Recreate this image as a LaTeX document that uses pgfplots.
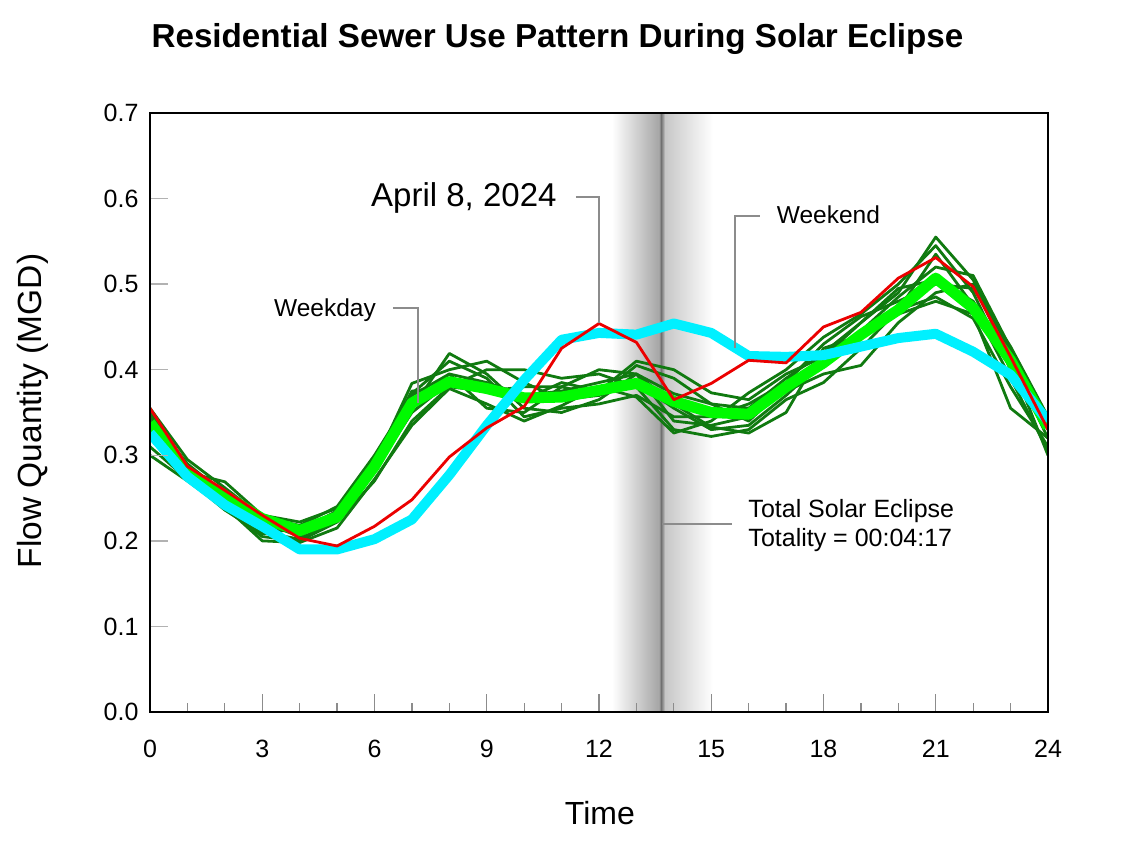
\documentclass[border=0pt]{standalone}
\usepackage{fontspec}
\setmainfont{Liberation Sans}
\usepackage{pgfplots}
\usepackage{pgfplotstable}
\pgfplotsset{compat=1.18}
\definecolor{dgreen}{RGB}{16,122,16}
\definecolor{limec}{RGB}{0,250,0}
\definecolor{cyanc}{RGB}{0,240,255}
\definecolor{redc}{RGB}{235,0,0}
\definecolor{annot}{RGB}{140,140,140}

% weekday / weekend daily profiles (dark green)
\pgfplotstableread{
h  d1    d2    d3    d4    d5    d6    d7    d8    d9
0  0.355 0.300 0.340 0.330 0.345 0.320 0.350 0.335 0.310
1  0.295 0.270 0.280 0.278 0.290 0.275 0.285 0.282 0.272
2  0.262 0.238 0.269 0.245 0.255 0.240 0.250 0.248 0.236
3  0.228 0.205 0.230 0.215 0.222 0.200 0.218 0.210 0.208
4  0.218 0.200 0.222 0.210 0.205 0.198 0.212 0.202 0.215
5  0.240 0.222 0.238 0.228 0.232 0.215 0.235 0.225 0.230
6  0.300 0.270 0.290 0.280 0.295 0.272 0.285 0.282 0.290
7  0.370 0.340 0.384 0.355 0.375 0.335 0.360 0.350 0.372
8  0.395 0.380 0.400 0.419 0.380 0.378 0.395 0.385 0.410
9  0.385 0.375 0.410 0.395 0.400 0.360 0.355 0.380 0.390
10 0.370 0.380 0.385 0.355 0.400 0.340 0.350 0.365 0.345
11 0.375 0.380 0.365 0.350 0.390 0.358 0.380 0.385 0.355
12 0.385 0.370 0.370 0.365 0.395 0.380 0.400 0.375 0.360
13 0.395 0.405 0.385 0.395 0.380 0.368 0.395 0.410 0.370
14 0.372 0.390 0.355 0.340 0.330 0.326 0.360 0.400 0.345
15 0.360 0.360 0.330 0.335 0.322 0.340 0.333 0.373 0.345
16 0.355 0.340 0.335 0.345 0.330 0.373 0.326 0.365 0.360
17 0.390 0.380 0.370 0.375 0.365 0.400 0.350 0.395 0.385
18 0.420 0.405 0.410 0.395 0.385 0.438 0.425 0.415 0.430
19 0.455 0.440 0.445 0.405 0.425 0.465 0.440 0.455 0.462
20 0.490 0.470 0.485 0.455 0.470 0.500 0.465 0.495 0.480
21 0.555 0.535 0.520 0.490 0.485 0.545 0.480 0.505 0.500
22 0.505 0.475 0.510 0.500 0.460 0.490 0.465 0.480 0.495
23 0.420 0.390 0.425 0.410 0.380 0.400 0.355 0.410 0.427
24 0.335 0.305 0.340 0.320 0.310 0.330 0.320 0.300 0.345
}\daysdata

% average (lime), April 8 2024 (red), other profile (cyan)
\pgfplotstableread{
h  avg   apr   cy
0  0.338 0.355 0.326
1  0.279 0.287 0.275
2  0.253 0.259 0.242
3  0.226 0.230 0.217
4  0.212 0.203 0.190
5  0.228 0.194 0.190
6  0.287 0.217 0.202
7  0.361 0.248 0.225
8  0.386 0.298 0.277
9  0.378 0.332 0.335
10 0.367 0.357 0.388
11 0.368 0.425 0.435
12 0.376 0.454 0.443
13 0.384 0.432 0.441
14 0.363 0.365 0.454
15 0.350 0.384 0.443
16 0.348 0.411 0.416
17 0.380 0.408 0.415
18 0.408 0.450 0.417
19 0.441 0.467 0.427
20 0.470 0.507 0.437
21 0.507 0.531 0.442
22 0.472 0.497 0.421
23 0.411 0.415 0.394
24 0.333 0.330 0.340
}\keydata

\begin{document}
\begin{tikzpicture}[x=1pt,y=1pt]
\path[use as bounding box] (0,0) rectangle (1144,863);
\begin{axis}[
  at={(150pt,151pt)}, anchor=south west,
  scale only axis, width=898pt, height=599pt,
  axis on top,
  xmin=0, xmax=24, ymin=0, ymax=0.7,
  xtick={0,3,...,24}, minor x tick num=2,
  ytick={0,0.1,0.2,0.3,0.4,0.5,0.6,0.7},
  tick align=inside,
  xtick pos=left, ytick pos=left,
  major tick length=18pt, minor tick length=9pt,
  x tick style={annot, line width=1.3pt},
  y tick style={black!30, line width=1.5pt},
  axis line style={line width=2.6pt},
  tick label style={font=\fontsize{25}{29}\selectfont},
  /pgf/number format/assume math mode=true,
  yticklabel style={/pgf/number format/fixed, /pgf/number format/fixed zerofill, /pgf/number format/precision=1, xshift=-8pt},
  xticklabel style={yshift=-25pt},
  title={Residential Sewer Use Pattern During Solar Eclipse},
  title style={at={(axis description cs:0.4538,1.0985)}, anchor=base, font=\fontsize{33.2}{39}\selectfont\bfseries},
  xlabel={Time},
  xlabel style={at={(axis description cs:0.501,-0.1886)}, anchor=base, font=\fontsize{32}{38}\selectfont},
  ylabel={Flow Quantity (MGD)},
  ylabel style={at={(axis description cs:-0.121,0.5025)}, anchor=base, font=\fontsize{33.5}{39}\selectfont},
]
% eclipse band
\fill[left color=white, right color=black!35, draw=none] (axis cs:12.35,0) rectangle (axis cs:13.60,0.7);
\fill[left color=black!35, right color=black!55, draw=none] (axis cs:13.60,0) rectangle (axis cs:13.66,0.7);
\fill[left color=black!55, right color=black!25, draw=none] (axis cs:13.66,0) rectangle (axis cs:13.76,0.7);
\fill[left color=black!22, right color=white, draw=none] (axis cs:13.76,0) rectangle (axis cs:15.05,0.7);

\foreach \c in {d1,d2,d3,d4,d5,d6,d7,d8,d9}{
  \addplot[dgreen, line width=2.8pt, line join=round] table[x=h, y=\c] {\daysdata};
}
\addplot[limec, line width=11pt, line join=round] table[x=h, y=avg] {\keydata};
\addplot[cyanc, line width=10pt, line join=round] table[x=h, y=cy] {\keydata};
\addplot[redc, line width=2.8pt, line join=round] table[x=h, y=apr] {\keydata};

% annotations
\draw[annot, line width=1.8pt] (axis cs:11.38,0.602) -- (axis cs:12.0,0.602) -- (axis cs:12.0,0.4546);
\node[anchor=base east, inner sep=0pt, font=\fontsize{33}{40}\selectfont] at (axis cs:10.87,0.5905) {April 8, 2024};
\draw[annot, line width=1.8pt] (axis cs:6.49,0.472) -- (axis cs:7.16,0.472) -- (axis cs:7.16,0.361);
\node[anchor=base east, inner sep=0pt, font=\fontsize{24.5}{29}\selectfont] at (axis cs:6.04,0.462) {Weekday};
\draw[annot, line width=1.8pt] (axis cs:16.30,0.580) -- (axis cs:15.64,0.580) -- (axis cs:15.64,0.4254);
\node[anchor=base west, inner sep=0pt, font=\fontsize{24.5}{29}\selectfont] at (axis cs:16.75,0.571) {Weekend};
\draw[annot, line width=1.8pt] (axis cs:13.68,0.2197) -- (axis cs:15.55,0.2197);
\node[anchor=base west, inner sep=0pt, font=\fontsize{25}{30}\selectfont] at (axis cs:15.99,0.2275) {Total Solar Eclipse};
\node[anchor=base west, inner sep=0pt, font=\fontsize{25}{30}\selectfont] at (axis cs:15.99,0.1932) {Totality = 00:04:17};
\end{axis}
\end{tikzpicture}
\end{document}
